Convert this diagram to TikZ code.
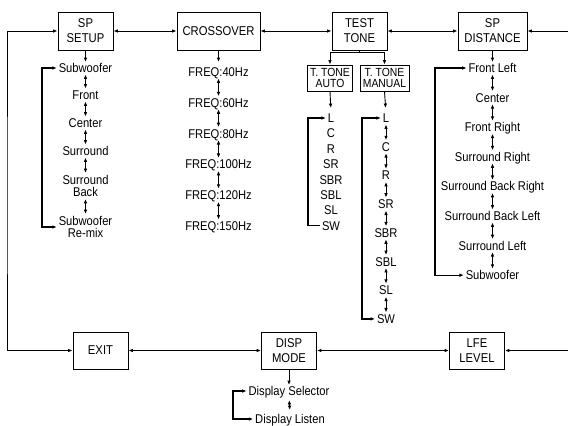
\documentclass[tikz,border=0pt]{standalone}
\usepackage{fontspec}
\setmainfont{Liberation Sans}[FakeStretch=0.88]
\usetikzlibrary{arrows.meta}
\begin{document}
\begin{tikzpicture}[x=1pt,y=-1pt, >={Latex[length=4.5pt,width=3.6pt]}, line width=0.9pt,
  box/.style={draw, align=center, minimum height=38pt, inner sep=0pt, font=\fontsize{12.8}{15}\selectfont},
  sbox/.style={draw, align=center, minimum height=26pt, inner sep=0pt, font=\fontsize{11.8}{11.5}\selectfont},
  item/.style={inner sep=0pt, text height=9pt, text depth=0pt, font=\fontsize{12.7}{13}\selectfont},
  itemtwo/.style={inner sep=0pt, align=center, font=\fontsize{12.7}{12.7}\selectfont},
  dbl/.style={<->, shorten <=1.5pt, shorten >=1.5pt},
  down/.style={->, shorten >=1pt},
  brk/.style={line width=1.2pt, shorten <=1.5pt, shorten >=1.5pt}]
\useasboundingbox (0,0) rectangle (568,426);

% main boxes
\node[box, minimum width=55pt] (spsetup) at (85.5,31) {SP\\SETUP};
\node[box, minimum width=83pt] (cross) at (218.5,31) {CROSSOVER};
\node[box, minimum width=55pt] (tt) at (359.5,31) {TEST\\TONE};
\node[box, minimum width=69pt] (spd) at (492.5,31) {SP\\DISTANCE};
\node[box, minimum width=55pt, minimum height=37pt] (exit) at (100.5,350.5) {EXIT};
\node[box, minimum width=55pt, minimum height=37pt] (disp) at (289,350.5) {DISP\\MODE};
\node[box, minimum width=55pt, minimum height=37pt] (lfe) at (477,350.5) {LFE\\LEVEL};
\node[sbox, minimum width=45pt] (auto) at (330,78) {T. TONE\\AUTO};
\node[sbox, minimum width=49pt] (man) at (384.5,78) {T. TONE\\MANUAL};

% ring connectors
\draw[<->] (spsetup.east) -- (cross.west);
\draw[<->] (cross.east) -- (tt.west);
\draw[<->] (tt.east) -- (spd.west);
\draw[<->] (exit.east) -- (disp.west);
\draw[<->] (disp.east) -- (lfe.west);
\coordinate (rt) at (570,31);
\coordinate (rb) at (570,350.5);
\draw[->] (rt) -- (spd.east);
\draw[->] (rb) -- (lfe.east);
\coordinate (lx) at (7,200);
\draw[<->] (spsetup.west) -| (lx) |- (exit.west);

% SP SETUP list
\node[item] (s1) at (85.5,68) {Subwoofer};
\node[item] (s2) at (85.5,95) {Front};
\node[item] (s3) at (85.5,123) {Center};
\node[item] (s4) at (85.5,151) {Surround};
\node[itemtwo] (s5) at (85.5,186) {Surround\\Back};
\node[itemtwo] (s6) at (85.5,227) {Subwoofer\\Re-mix};
\draw[down] (spsetup.south) -- (s1.north);
\draw[dbl] (s1.south) -- (s2.north);
\draw[dbl] (s2.south) -- (s3.north);
\draw[dbl] (s3.south) -- (s4.north);
\draw[dbl] (s4.south) -- (s5.north);
\draw[dbl] (s5.south) -- (s6.north);
\coordinate (sbx) at (42,150);
\draw[brk, <->] (s1.west) -| (sbx) |- (s6.west);

% CROSSOVER list
\foreach \t [count=\i] in {FREQ:40Hz,FREQ:60Hz,FREQ:80Hz,FREQ:100Hz,FREQ:120Hz,FREQ:150Hz}
  \node[item] (c\i) at (218.5,{72+30.8*(\i-1)}) {\t};
\draw[->, shorten >=5pt] (cross.south) -- (c1.north);
\foreach \i [evaluate=\i as \j using int(\i+1)] in {1,...,5}
  \draw[dbl] (c\i.south) -- (c\j.north);

% TEST TONE
\coordinate (ttj) at (359.5,52.5);
\draw (tt.south) -- (ttj);
\draw[->] (ttj) -| (auto.north);
\draw[->] (ttj) -| (man.north);
\foreach \t [count=\i] in {L,C,R,SR,SBR,SBL,SL,SW}
  \node[item] (a\i) at (331,{118+15.4*(\i-1)}) {\t};
\draw[->, shorten >=5pt] (auto.south) -- (a1.north);
\coordinate (abx) at (308,170);
\draw[brk, ->] (a8.west) -| (abx) |- (a1.west);
\foreach \t [count=\i] in {L,C,R,SR,SBR,SBL,SL,SW}
  \node[item] (m\i) at (386,{118+28.7*(\i-1)}) {\t};
\draw[->, shorten >=5pt] (man.south) -- (m1.north);
\foreach \i [evaluate=\i as \j using int(\i+1)] in {1,...,7}
  \draw[dbl] (m\i.south) -- (m\j.north);
\coordinate (mbx) at (362,200);
\draw[brk, <->] (m1.west) -| (mbx) |- (m8.west);

% SP DISTANCE list
\foreach \t [count=\i] in {Front Left,Center,Front Right,Surround Right,Surround Back Right,Surround Back Left,Surround Left,Subwoofer}
  \node[item] (d\i) at (492.5,{68+29.6*(\i-1)}) {\t};
\draw[down] (spd.south) -- (d1.north);
\foreach \i [evaluate=\i as \j using int(\i+1)] in {1,...,7}
  \draw[dbl] (d\i.south) -- (d\j.north);
\coordinate (dbx) at (435,170);
\draw[brk, <->] (d1.west) -| (dbx) |- (d8.west);

% DISP MODE list
\node[item] (ds) at (289,391) {Display Selector};
\node[item] (dl) at (290,419) {Display Listen};
\draw[down] (disp.south) -- (ds.north);
\draw[<->, shorten <=4pt, shorten >=4pt] (ds.south) -- (dl.north);
\coordinate (xbx) at (233,405);
\draw[brk, <->] (ds.west) -| (xbx) |- (dl.west);
\end{tikzpicture}
\end{document}
